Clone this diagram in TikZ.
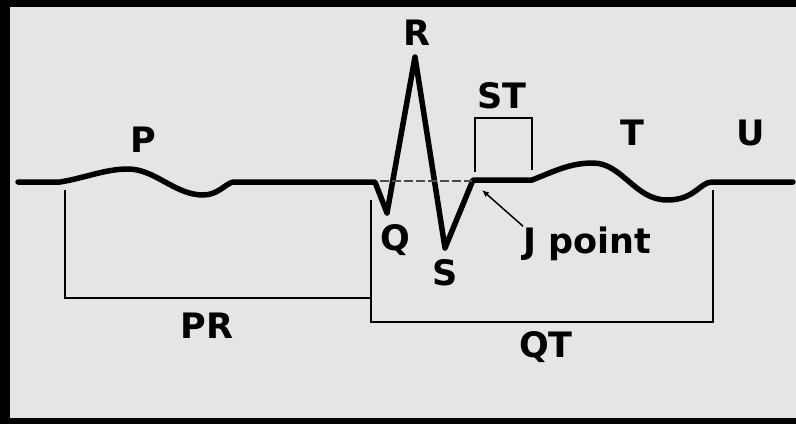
\documentclass[tikz,border=0pt]{standalone}
\usepackage{fontspec}
\setmainfont{DejaVu Sans}
\usetikzlibrary{positioning,arrows.meta}

\begin{document}
\begin{tikzpicture}[x=1pt, y=-1pt,
                    wave/.style={line width=5.5pt, line join=round, line cap=round},
                    bracket/.style={line width=1.8pt},
                    wavelbl/.style={font=\fontsize{35}{36}\selectfont\bfseries, inner sep=0pt, anchor=base},
                ]
    % frame
    \fill[black!10] (0,0) rectangle (796,424);
    \fill[black] (0,0) rectangle (796,7);
    \fill[black] (0,0) rectangle (10,424);
    \fill[black] (0,418) rectangle (796,424);

    \coordinate (qstart) at (375,182);
    \coordinate (jpt) at (473,180);
    \coordinate (jtip) at (482,190);
    \coordinate (isoleft) at (380,181);
    \coordinate (isoright) at (472,181);

    % trace
    \draw[wave] (18,182) -- (60,182)
        .. controls (85,178) and (105,169) .. (128,169)
        .. controls (155,169) and (175,195) .. (203,195)
        .. controls (218,195) and (225,184) .. (233,182)
        -- (qstart) -- (387,213) -- (415,57) -- (445,248) -- (jpt) -- (532,180)
        .. controls (555,171) and (570,163) .. (593,163)
        .. controls (622,163) and (635,200) .. (667,200)
        .. controls (695,200) and (700,182) .. (712,182) -- (793,182);
    \draw[black!70, line width=2pt, dash pattern=on 9pt off 3pt] (isoleft) -- (isoright);

    % intervals
    \draw[bracket] (65,190) -- (65,298) -- (371,298);
    \draw[bracket] (371,200) -- (371,322) -- (713,322) -- (713,190);
    \draw[bracket] (475,172) -- (475,118) -- (532,118) -- (532,170);

    % labels
    \node[wavelbl] (p) at (143,152) {P};
    \node[wavelbl] (r) at (417,45) {R};
    \node[wavelbl] (q) at (395,250) {Q};
    \node[wavelbl] (s) at (445,285) {S};
    \node[wavelbl] (st) at (502,108) {ST};
    \node[wavelbl] (t) at (632,145) {T};
    \node[wavelbl] (u) at (751,145) {U};
    \node[wavelbl, anchor=base west] (jlbl) at (523,253) {J point};
    \node[wavelbl] (pr) at (207,338) {PR};
    \node[wavelbl] (qt) at (546,357) {QT};

    \draw[-{Latex[length=7pt, width=6pt]}, line width=1.5pt] (jlbl.north west) -- (jtip);
\end{tikzpicture}
\end{document}
